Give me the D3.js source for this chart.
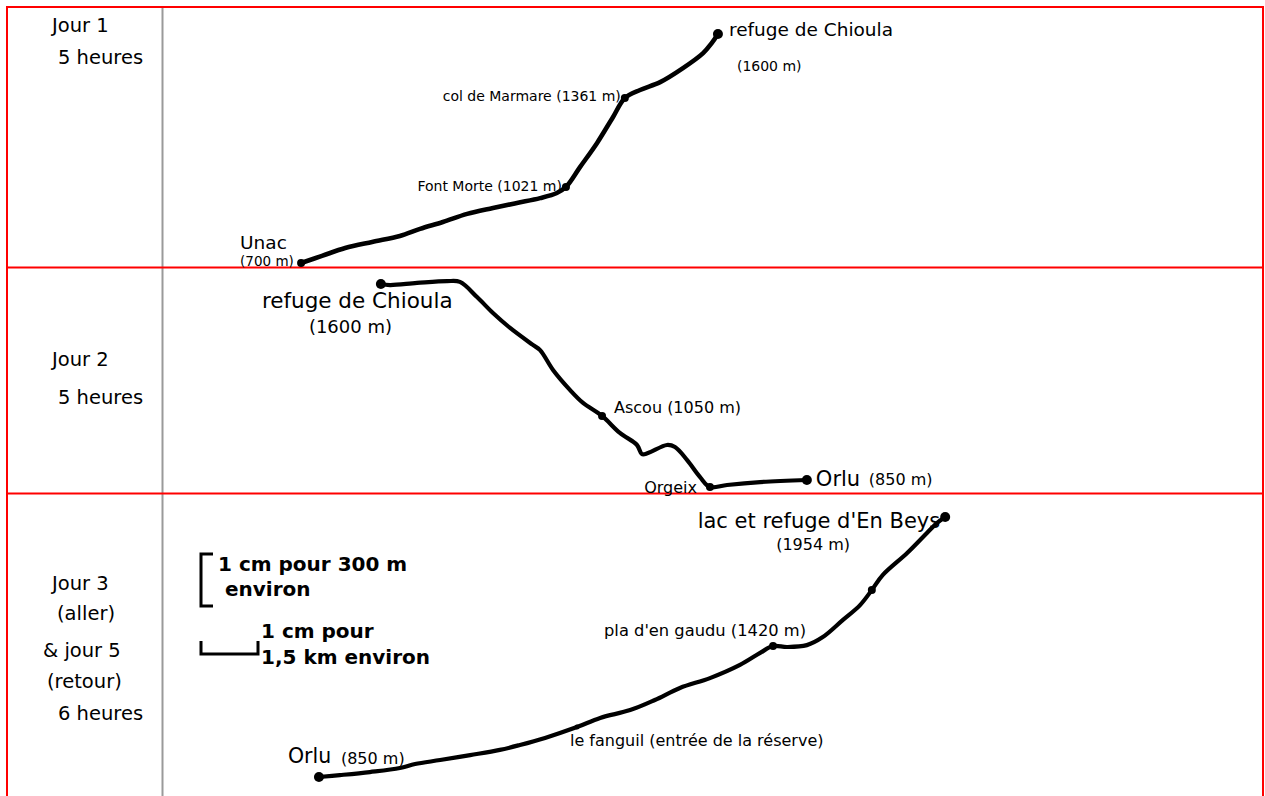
<!DOCTYPE html>
<html>
<head>
<meta charset="utf-8">
<script src="https://cdn.jsdelivr.net/npm/d3@7"></script>
<style>
  body { margin: 0; background: #fff; }
  text { font-family: "DejaVu Sans", sans-serif; fill: #000; }
</style>
</head>
<body>
<div id="viz"></div>
<script>
// left column text, one list per row
var dayLines = [
  ["Jour 1", "5 heures"],
  ["Jour 2", "5 heures"],
  ["Jour 3", "(aller)", "& jour 5", "(retour)", "6 heures"]
];

// profiles: [distance km, altitude m]
var day1 = [[3.66,700],[4.21,728],[4.82,759],[5.53,783],[6.26,806],[6.79,834],[7.39,861],[8.03,893],
  [8.71,916],[9.34,936],[9.95,955],[10.39,975],[10.63,999],[11.0,1077],[11.45,1172],[11.87,1274],
  [12.18,1348],[12.58,1380],[13.11,1411],[13.71,1466],[14.24,1525],[14.47,1565],[14.63,1600]];
var day2 = [[5.76,1600],[6.0,1596],[6.71,1604],[7.5,1611],[7.84,1608],[8.29,1550],[8.71,1489],[9.16,1432],
  [9.76,1367],[9.95,1347],[10.29,1271],[10.74,1194],[11.08,1145],[11.58,1095],[12.05,1030],[12.5,984],
  [12.63,949],[12.79,953],[13.29,984],[13.5,976],[13.82,926],[14.16,861],[14.42,823],[14.87,831],
  [15.74,842],[16.97,850]];
var day3 = [[4.13,850],[4.68,858],[5.47,871],[6.26,888],[6.66,905],[7.32,922],[8.11,943],[8.89,965],
  [9.42,986],[10.08,1016],[10.92,1062],[11.53,1101],[12.32,1134],[12.97,1177],[13.63,1228],[14.42,1270],
  [15.21,1326],[15.74,1377],[16.08,1406],[16.45,1402],[16.97,1410],[17.39,1444],[17.92,1517],[18.37,1580],
  [18.68,1644],[18.97,1708],[19.61,1801],[20.13,1886],[20.39,1928],[20.61,1954]];

// waypoints: [km, altitude, dot kind]
var stops1 = [[3.66,700,0],[10.63,999,0],[12.18,1348,0],[14.63,1600,1]];
var stops2 = [[5.76,1600,1],[11.58,1095,0],[14.42,823,0],[16.97,850,1]];
var stops3 = [[4.13,850,1],[10.92,1062,2],[16.08,1406,0],[18.68,1644,0],[20.61,1954,1]];

// labels: text, km, altitude of the waypoint they belong to
var labels1 = [
  {t:"refuge de Chioula", km:14.63, alt:1600, dx:11, dy:2, s:18.5},
  {t:"(1600 m)", km:14.63, alt:1600, dx:19, dy:37, s:14},
  {t:"col de Marmare (1361 m)", km:12.18, alt:1348, dx:-4, dy:3, s:14, end:1},
  {t:"Font Morte (1021 m)", km:10.63, alt:999, dx:-4, dy:4, s:14, end:1},
  {t:"Unac", km:3.66, alt:700, dx:-61, dy:-14, s:18.5},
  {t:"(700 m)", km:3.66, alt:700, dx:-61, dy:3, s:13.5}
];
var labels2 = [
  {t:"refuge de Chioula", km:5.76, alt:1600, dx:-119, dy:24, s:21.5},
  {t:"(1600 m)", km:5.76, alt:1600, dx:-72, dy:49, s:18},
  {t:"Ascou (1050 m)", km:11.58, alt:1095, dx:12, dy:-3, s:16},
  {t:"Orgeix", km:14.42, alt:823, dx:-13, dy:6, s:16, end:1},
  {t:"Orlu", km:16.97, alt:850, dx:9, dy:6, s:21},
  {t:"(850 m)", km:16.97, alt:850, dx:62, dy:5, s:16}
];
var labels3 = [
  {t:"lac et refuge d'En Beys", km:20.61, alt:1954, dx:-5, dy:11, s:21, end:1},
  {t:"(1954 m)", km:20.61, alt:1954, dx:-169, dy:33, s:16},
  {t:"pla d'en gaudu (1420 m)", km:16.08, alt:1406, dx:-169, dy:-10, s:16.3},
  {t:"le fanguil (entrée de la réserve)", km:10.92, alt:1062, dx:-7, dy:19, s:16},
  {t:"Orlu", km:4.13, alt:850, dx:-31, dy:-14, s:20.5},
  {t:"(850 m)", km:4.13, alt:850, dx:22, dy:-13, s:16}
];

var scaleNotes = [["1 cm pour 300 m", " environ"], ["1 cm pour", "1,5 km environ"]];

var W = 1265, H = 796;
var svg = d3.select('#viz').append('svg').attr('width', W).attr('height', H);

var x = d3.scaleLinear().domain([0, 29]).range([162, 1264]);
var rows = [
  {y: d3.scaleLinear().domain([700, 1600]).range([263, 34]), path: day1, stops: stops1, labels: labels1, w: 4.6},
  {y: d3.scaleLinear().domain([850, 1600]).range([480, 284]), path: day2, stops: stops2, labels: labels2, w: 4.2},
  {y: d3.scaleLinear().domain([850, 1954]).range([777, 517]), path: day3, stops: stops3, labels: labels3, w: 4.2}
];

// table grid
var grid = svg.append('g');
grid.append('line').attr('x1', 162.5).attr('x2', 162.5).attr('y1', 7).attr('y2', H)
  .style('stroke', '#9a9a9a').style('stroke-width', 2);
[7, 267.5, 493.5].forEach(function(yy) {
  grid.append('line').attr('x1', 7).attr('x2', 1264).attr('y1', yy).attr('y2', yy)
    .style('stroke', '#f00').style('stroke-width', 2);
});
[7, 1263].forEach(function(xx) {
  grid.append('line').attr('x1', xx).attr('x2', xx).attr('y1', 6).attr('y2', H)
    .style('stroke', '#f00').style('stroke-width', 2);
});

// day texts in the left column
var dayPos = [
  [[52, 32], [58, 64]],
  [[52, 366], [58, 404]],
  [[52, 590], [57, 620], [43, 657], [47, 688], [58, 720]]
];
dayLines.forEach(function(lines, i) {
  lines.forEach(function(l, j) {
    svg.append('text').attr('x', dayPos[i][j][0]).attr('y', dayPos[i][j][1])
      .style('font-size', '19.5px').text(l);
  });
});

// profiles
rows.forEach(function(r) {
  var line = d3.line()
    .x(function(d) { return x(d[0]); })
    .y(function(d) { return r.y(d[1]); })
    .curve(d3.curveCatmullRom.alpha(0.5));
  svg.append('path').datum(r.path)
    .attr('d', line)
    .style('fill', 'none').style('stroke', '#000')
    .style('stroke-width', r.w).style('stroke-linecap', 'round').style('stroke-linejoin', 'round');
  svg.selectAll(null).data(r.stops).enter().append('circle')
    .attr('cx', function(d) { return x(d[0]); })
    .attr('cy', function(d) { return r.y(d[1]); })
    .attr('r', function(d) { return d[2] == 1 ? 5 : (d[2] == 2 ? 2.5 : 4); })
    .style('fill', '#000');
  svg.selectAll(null).data(r.labels).enter().append('text')
    .attr('x', function(d) { return x(d.km) + d.dx; })
    .attr('y', function(d) { return r.y(d.alt) + d.dy; })
    .attr('text-anchor', function(d) { return d.end ? 'end' : 'start'; })
    .style('font-size', function(d) { return d.s + 'px'; })
    .text(function(d) { return d.t; });
});

// scale legend
var leg = svg.append('g');
leg.append('path').attr('d', 'M213,554 H201 V606 H213')
  .style('fill', 'none').style('stroke', '#000').style('stroke-width', 3);
var hx0 = 201, hx1 = hx0 + (x(1.5) - x(0));
leg.append('path').attr('d', 'M' + hx0 + ',641 V654 H' + hx1 + ' V641')
  .style('fill', 'none').style('stroke', '#000').style('stroke-width', 3);
var notePos = [[[218, 571], [218, 596]], [[261, 638], [261, 664]]];
scaleNotes.forEach(function(n, i) {
  n.forEach(function(l, j) {
    leg.append('text').attr('x', notePos[i][j][0]).attr('y', notePos[i][j][1])
      .style('font-size', '20px').style('font-weight', 'bold').style('white-space', 'pre')
      .attr('xml:space', 'preserve').text(l);
  });
});
</script>
</body>
</html>
